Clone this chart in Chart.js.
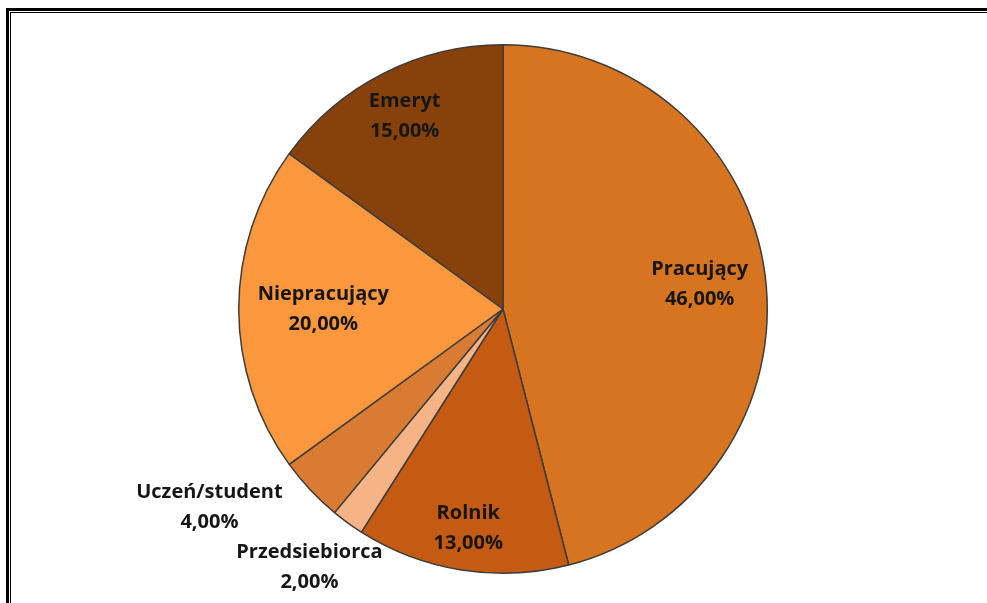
<!DOCTYPE html>
<html lang="pl">
<head>
  <meta charset="UTF-8" />
  <title>Struktura respondentów</title>
  <script src="https://cdn.jsdelivr.net/npm/chart.js"></script>
  <style>
    body { margin: 0; background: #fff; }
    .frame-outer {
      position: absolute; left: 6px; top: 8px; width: 1100px; height: 800px;
      border: 3px solid #000;
    }
    .frame-inner {
      position: absolute; left: 10px; top: 12px; width: 1100px; height: 800px;
      border: 1px solid #000;
    }
    .wrap { position: absolute; left: 0; top: 0; width: 987px; height: 603px; overflow: hidden; }
    canvas { position: absolute; left: 0; top: 0; }
  </style>
</head>
<body>
<div class="wrap">
  <div class="frame-outer"></div>
  <div class="frame-inner"></div>
  <canvas id="pie" width="987" height="603"></canvas>
</div>
<script>
  const categories = ['Pracujący', 'Rolnik', 'Przedsiebiorca', 'Uczeń/student', 'Niepracujący', 'Emeryt'];
  const shares = [46, 13, 2, 4, 20, 15];
  const sliceColors = ['#D7741F', '#C55A13', '#F5B386', '#D97B33', '#FB973D', '#86420A'];

  // where each label sits: fraction of radius, and a small angle nudge (degrees)
  const labelRadius = [0.75, 0.84, 1.22, 1.34, 0.68, 0.82];
  const labelNudge = [0, 0, 0.9, 9.2, 0, 0];

  const total = shares.reduce((a, b) => a + b, 0);
  const pct = v => (v / total * 100).toFixed(2).replace('.', ',') + '%';

  const sliceLabels = {
    id: 'sliceLabels',
    afterDatasetsDraw(chart) {
      const ctx = chart.ctx;
      const arcs = chart.getDatasetMeta(0).data;
      ctx.save();
      ctx.font = 'bold 20px "Open Sans"';
      ctx.fillStyle = '#161616';
      ctx.textAlign = 'center';
      ctx.textBaseline = 'middle';
      arcs.forEach((arc, i) => {
        const p = arc.getProps(['x', 'y', 'startAngle', 'endAngle', 'outerRadius'], true);
        const mid = (p.startAngle + p.endAngle) / 2 + labelNudge[i] * Math.PI / 180;
        const r = p.outerRadius * labelRadius[i];
        const x = p.x + Math.cos(mid) * r;
        const y = p.y + Math.sin(mid) * r;
        ctx.fillText(categories[i], x, y - 15);
        ctx.fillText(pct(shares[i]), x, y + 15);
      });
      ctx.restore();
    }
  };

  new Chart(document.getElementById('pie').getContext('2d'), {
    type: 'pie',
    data: {
      labels: categories,
      datasets: [{
        data: shares,
        backgroundColor: sliceColors,
        borderColor: '#3c3c3c',
        borderWidth: 1.5
      }]
    },
    options: {
      responsive: false,
      animation: false,
      events: [],
      layout: { padding: { left: 238, right: 219, top: 44, bottom: 29 } },
      plugins: { legend: { display: false }, tooltip: { enabled: false } }
    },
    plugins: [sliceLabels]
  });
</script>
</body>
</html>
